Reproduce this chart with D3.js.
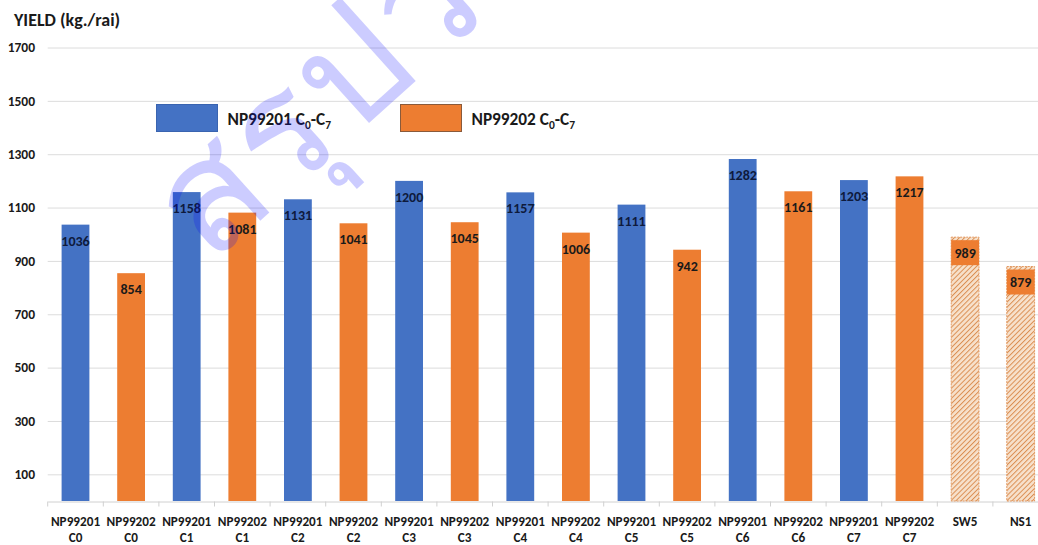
<!DOCTYPE html>
<html>
<head>
<meta charset="utf-8">
<script src="https://cdn.jsdelivr.net/npm/d3@7"></script>
<style>
  html, body { margin: 0; padding: 0; background: #fff; }
  svg { display: block; }
  text { font-family: Carlito, Lato, "Open Sans", sans-serif; }
</style>
</head>
<body>
<svg id="chart" width="1038" height="545"></svg>
<script>
// Yield trial: NP99201 / NP99202 cycles C0–C7 and two check varieties
const lineNames = ["NP99201","NP99202","NP99201","NP99202","NP99201","NP99202","NP99201","NP99202",
                   "NP99201","NP99202","NP99201","NP99202","NP99201","NP99202","NP99201","NP99202","SW5","NS1"];
const cycles    = ["C0","C0","C1","C1","C2","C2","C3","C3","C4","C4","C5","C5","C6","C6","C7","C7","",""];
const groups    = ["NP99201","NP99202","NP99201","NP99202","NP99201","NP99202","NP99201","NP99202",
                   "NP99201","NP99202","NP99201","NP99202","NP99201","NP99202","NP99201","NP99202","check","check"];
const yields    = [1036,854,1158,1081,1131,1041,1200,1045,1157,1006,1111,942,1282,1161,1203,1217,989,879];
const yTicks    = [100,300,500,700,900,1100,1300,1500,1700];

const COLORS = { NP99201: "#4472C4", NP99202: "#ED7D31" };

const data = yields.map((v, i) => ({ key: i, name: lineNames[i], cycle: cycles[i], group: groups[i], value: v }));

const svg = d3.select("#chart");
const plotLeft = 47.7, plotRight = 1048.5, plotTop = 47.5, plotBottom = 501;

const x = d3.scaleBand().domain(data.map(d => d.key)).range([plotLeft, plotRight]).paddingInner(0.5).paddingOuter(0.25);
const y = d3.scaleLinear().domain([0, 1700]).range([plotBottom, plotTop]);

// hatch pattern for the check varieties
const defs = svg.append("defs");
const pat = defs.append("pattern").attr("id", "hatch").attr("patternUnits", "userSpaceOnUse")
  .attr("width", 3.6).attr("height", 3.6).attr("patternTransform", "rotate(45)");
pat.append("rect").attr("width", 3.6).attr("height", 3.6).attr("fill", "#f7e1cc");
pat.append("line").attr("x1", 0).attr("y1", 0).attr("x2", 0).attr("y2", 3.6)
  .attr("stroke", "#DB8E52").attr("stroke-width", 2);

// gridlines
svg.append("g").selectAll("line").data(yTicks).join("line")
  .attr("x1", plotLeft).attr("x2", plotRight)
  .attr("y1", d => y(d) + 0.5).attr("y2", d => y(d) + 0.5)
  .attr("stroke", "#dcdcdc").attr("stroke-width", 1);

// y tick labels
svg.append("g").selectAll("text").data(yTicks).join("text")
  .attr("x", 35).attr("y", d => y(d)).attr("dy", "0.35em")
  .attr("text-anchor", "end").attr("font-size", 13.5).attr("font-weight", 700).attr("fill", "#1a1a1a")
  .text(d => d);

// baseline axis with category separators
const xAxis = d3.axisBottom(x).tickSize(0).tickFormat("");
const ax = svg.append("g").attr("transform", `translate(0,${plotBottom + 0.5})`).call(xAxis);
ax.select(".domain").attr("stroke", "#d0d0d0");
const bounds = d3.range(data.length + 1).map(i => plotLeft + i * x.step());
ax.selectAll(".sep").data(bounds).join("line").attr("class", "sep")
  .attr("x1", d => d).attr("x2", d => d).attr("y1", 0).attr("y2", 5).attr("stroke", "#d0d0d0");

// bars
const bars = svg.append("g");
bars.selectAll("rect").data(data).join("rect")
  .attr("x", d => x(d.key)).attr("width", x.bandwidth())
  .attr("y", d => y(d.value)).attr("height", d => y(0) - y(d.value))
  .attr("fill", d => d.group === "check" ? "url(#hatch)" : COLORS[d.group])
  .attr("stroke", d => d.group === "check" ? "#E39A62" : "none")
  .attr("stroke-width", 1).attr("stroke-dasharray", "2,1");

// solid label boxes on the check bars
const checks = data.filter(d => d.group === "check");
bars.selectAll("rect.box").data(checks).join("rect").attr("class", "box")
  .attr("x", d => x(d.key)).attr("width", x.bandwidth())
  .attr("y", d => y(d.value) + 3).attr("height", 25)
  .attr("fill", "#ED7D31");

// value labels
svg.append("g").selectAll("text").data(data).join("text")
  .attr("x", d => x(d.key) + x.bandwidth() / 2)
  .attr("y", d => y(d.value) + 16).attr("dy", "0.35em")
  .attr("text-anchor", "middle").attr("font-size", 14).attr("font-weight", 700)
  .attr("fill", d => d.group === "NP99201" ? "#0e1a3c" : "#1a1a1a")
  .text(d => d.value);

// category labels (two lines)
const cat = svg.append("g").selectAll("g").data(data).join("g")
  .attr("transform", d => `translate(${x(d.key) + x.bandwidth() / 2},0)`);
cat.append("text").attr("y", 521).attr("dy", "0.35em").attr("text-anchor", "middle")
  .attr("font-size", 13.2).attr("font-weight", 700).attr("fill", "#1a1a1a").text(d => d.name);
cat.append("text").attr("y", 537.5).attr("dy", "0.35em").attr("text-anchor", "middle")
  .attr("font-size", 13.2).attr("font-weight", 700).attr("fill", "#1a1a1a").text(d => d.cycle);

// axis title
svg.append("text").attr("x", 14).attr("y", 26).attr("font-size", 18).attr("font-weight", 700)
  .attr("fill", "#1a1a1a").text("YIELD (kg./rai)");

// legend
const legend = [
  { label: "NP99201", color: COLORS.NP99201, x: 156.5, stroke: "#3a64b0" },
  { label: "NP99202", color: COLORS.NP99202, x: 400.5, stroke: "#8a5a3a" }
];
const lg = svg.append("g").selectAll("g").data(legend).join("g")
  .attr("transform", d => `translate(${d.x},104.5)`);
lg.append("rect").attr("width", 61).attr("height", 27).attr("fill", d => d.color)
  .attr("stroke", d => d.stroke).attr("stroke-width", 1);
const lt = lg.append("text").attr("x", 71).attr("y", 14).attr("dy", "0.35em")
  .attr("font-size", 17.3).attr("font-weight", 700).attr("fill", "#1a1a1a");
lt.append("tspan").text(d => d.label + " C");
lt.append("tspan").attr("font-size", 11.5).attr("dy", 4).text("0");
lt.append("tspan").attr("dy", -4).text("-C");
lt.append("tspan").attr("font-size", 11.5).attr("dy", 4).text("7");

// watermark
svg.append("text")
  .attr("transform", "translate(210,266) rotate(-42)")
  .attr("font-family", "'Noto Sans Thai', 'Noto Sans', sans-serif")
  .attr("font-size", 156).attr("letter-spacing", 4).attr("fill", "#0000ff").attr("fill-opacity", 0.2)
  .text("สรุปวิชา");
</script>
</body>
</html>
